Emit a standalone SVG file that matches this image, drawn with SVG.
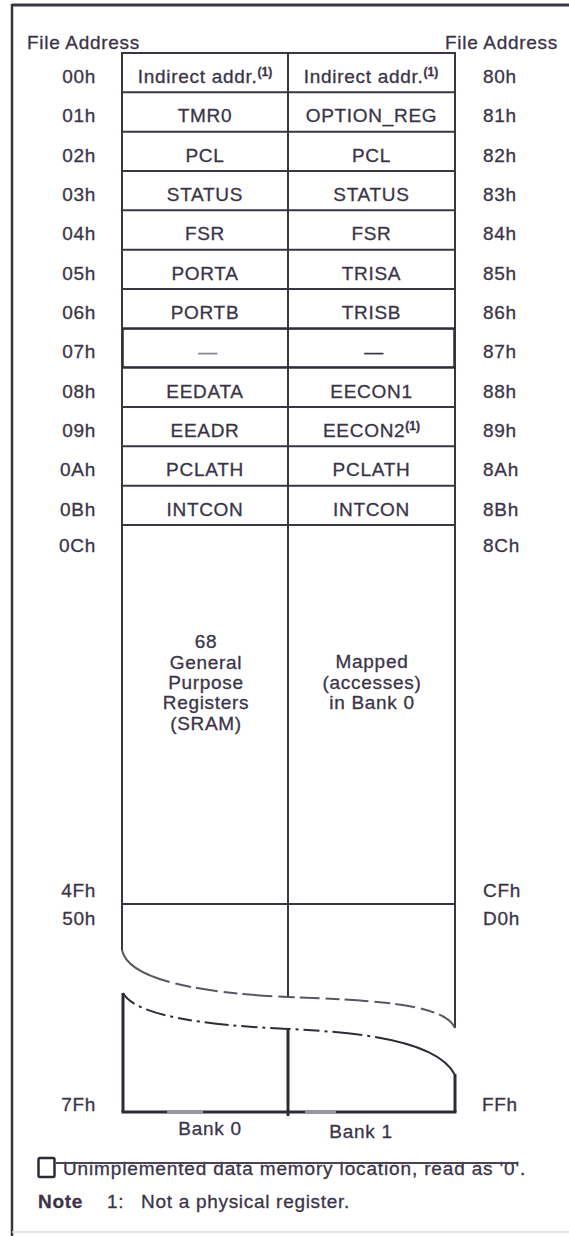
<svg xmlns="http://www.w3.org/2000/svg" width="569" height="1236" viewBox="0 0 569 1236">
<style>
.t{font-family:"Liberation Sans",Arial,sans-serif;font-size:19px;fill:#3b3448;stroke:#3b3448;stroke-width:0.3;letter-spacing:0.7px}
.c{text-anchor:middle}
.e{text-anchor:end}
.s{text-anchor:start}
.sup{font-size:12px;font-weight:bold;letter-spacing:0}
.b{font-weight:bold}
.ln{stroke:#3a3540;stroke-width:2;fill:none}
.thk{stroke:#2f2a35;stroke-width:3;fill:none}
.gr{stroke:#9a96a0;stroke-width:3;fill:none}
</style>
<rect x="0" y="0" width="569" height="1236" fill="#ffffff"/>
<g id="frame">
<line x1="12" y1="5" x2="569" y2="5" stroke="#3a3540" stroke-width="3"/>
<line x1="12" y1="4" x2="12" y2="1236" stroke="#3a3540" stroke-width="2.5"/>
<line x1="12" y1="1232" x2="569" y2="1232" stroke="#dddbe0" stroke-width="1.5"/>
</g>
<g id="headers">
<text class="t s" x="27" y="49">File Address</text>
<text class="t s" x="445" y="49">File Address</text>
</g>
<g id="connectors">
<line class="ln" x1="122" y1="52" x2="122" y2="950"/>
<line class="ln" x1="288" y1="52" x2="288" y2="997"/>
<line class="ln" x1="455" y1="52" x2="455" y2="1028"/>
<line class="ln" x1="121" y1="53" x2="456" y2="53"/>
<line class="ln" x1="121" y1="92.3" x2="456" y2="92.3"/>
<line class="ln" x1="121" y1="131.7" x2="456" y2="131.7"/>
<line class="ln" x1="121" y1="171" x2="456" y2="171"/>
<line class="ln" x1="121" y1="210.3" x2="456" y2="210.3"/>
<line class="ln" x1="121" y1="249.7" x2="456" y2="249.7"/>
<line class="ln" x1="121" y1="289" x2="456" y2="289"/>
<line class="ln" x1="121" y1="328.3" x2="456" y2="328.3"/>
<line class="ln" x1="121" y1="367.7" x2="456" y2="367.7"/>
<line class="ln" x1="121" y1="407" x2="456" y2="407"/>
<line class="ln" x1="121" y1="446.3" x2="456" y2="446.3"/>
<line class="ln" x1="121" y1="485.7" x2="456" y2="485.7"/>
<line class="ln" x1="121" y1="525" x2="456" y2="525"/>
<line class="ln" x1="121" y1="904" x2="456" y2="904"/>
<rect x="123" y="329" width="331" height="38" fill="none" stroke="#2f2a35" stroke-width="1.5"/>
<path d="M122 950 C128 980 200 993 288 997 C380 1000 445 1005 455 1028" fill="none" stroke="#5a5560" stroke-width="2" stroke-dasharray="60 6 16 5 22 6 14 5 30 6 16 5 20 6 14 5 24 6 16 5 20 6 14 5 26 6 16 5 20 6 60"/>
<path d="M123 993 C135 1015 200 1025 288 1029 C380 1033 440 1045 455 1075" fill="none" stroke="#2f2a35" stroke-width="2" stroke-dasharray="16 5 3 5 20 5 3 5 14 5 3 5 24 5 3 5 16 5 3 5 20 5 3 5 16 5 3 5 30 5 3 5 140"/>
<line class="thk" x1="123" y1="993" x2="123" y2="1112"/>
<line class="thk" x1="288" y1="1029" x2="288" y2="1116"/>
<line class="thk" x1="455" y1="1074" x2="455" y2="1112"/>
<line class="thk" x1="121.5" y1="1112" x2="456.5" y2="1112"/>
<line class="gr" x1="167" y1="1112" x2="203" y2="1112"/>
<line class="gr" x1="305" y1="1112" x2="336" y2="1112"/>
</g>
<g id="row-00">
<text class="t e" x="96" y="83">00h</text>
<text class="t c" x="205" y="83">Indirect addr.<tspan class="sup" dy="-7">(1)</tspan></text>
<text class="t c" x="371" y="83">Indirect addr.<tspan class="sup" dy="-7">(1)</tspan></text>
<text class="t s" x="483" y="83">80h</text>
</g>
<g id="row-01">
<text class="t e" x="96" y="122.3">01h</text>
<text class="t c" x="205" y="122.3">TMR0</text>
<text class="t c" x="371.5" y="122.3">OPTION_REG</text>
<text class="t s" x="483" y="122.3">81h</text>
</g>
<g id="row-02">
<text class="t e" x="96" y="161.7">02h</text>
<text class="t c" x="205" y="161.7">PCL</text>
<text class="t c" x="371.5" y="161.7">PCL</text>
<text class="t s" x="483" y="161.7">82h</text>
</g>
<g id="row-03">
<text class="t e" x="96" y="201">03h</text>
<text class="t c" x="205" y="201">STATUS</text>
<text class="t c" x="371.5" y="201">STATUS</text>
<text class="t s" x="483" y="201">83h</text>
</g>
<g id="row-04">
<text class="t e" x="96" y="240.3">04h</text>
<text class="t c" x="205" y="240.3">FSR</text>
<text class="t c" x="371.5" y="240.3">FSR</text>
<text class="t s" x="483" y="240.3">84h</text>
</g>
<g id="row-05">
<text class="t e" x="96" y="279.7">05h</text>
<text class="t c" x="205" y="279.7">PORTA</text>
<text class="t c" x="371.5" y="279.7">TRISA</text>
<text class="t s" x="483" y="279.7">85h</text>
</g>
<g id="row-06">
<text class="t e" x="96" y="319">06h</text>
<text class="t c" x="205" y="319">PORTB</text>
<text class="t c" x="371.5" y="319">TRISB</text>
<text class="t s" x="483" y="319">86h</text>
</g>
<g id="row-07">
<text class="t e" x="96" y="358.3">07h</text>
<text class="t c" x="208" y="358.3" style="fill:#8a8590;stroke:#8a8590">—</text>
<text class="t c" x="374" y="358.3">—</text>
<text class="t s" x="483" y="358.3">87h</text>
</g>
<g id="row-08">
<text class="t e" x="96" y="397.7">08h</text>
<text class="t c" x="205" y="397.7">EEDATA</text>
<text class="t c" x="371.5" y="397.7">EECON1</text>
<text class="t s" x="483" y="397.7">88h</text>
</g>
<g id="row-09">
<text class="t e" x="96" y="437">09h</text>
<text class="t c" x="205" y="437">EEADR</text>
<text class="t c" x="371.5" y="437">EECON2<tspan class="sup" dy="-7">(1)</tspan></text>
<text class="t s" x="483" y="437">89h</text>
</g>
<g id="row-0A">
<text class="t e" x="96" y="476.3">0Ah</text>
<text class="t c" x="205" y="476.3">PCLATH</text>
<text class="t c" x="371.5" y="476.3">PCLATH</text>
<text class="t s" x="483" y="476.3">8Ah</text>
</g>
<g id="row-0B">
<text class="t e" x="96" y="515.7">0Bh</text>
<text class="t c" x="205" y="515.7">INTCON</text>
<text class="t c" x="371.5" y="515.7">INTCON</text>
<text class="t s" x="483" y="515.7">8Bh</text>
</g>
<g id="gpr-block">
<text class="t e" x="96" y="552">0Ch</text>
<text class="t s" x="483" y="552">8Ch</text>
<text class="t c" x="206" y="648">68</text>
<text class="t c" x="206" y="669">General</text>
<text class="t c" x="206" y="689">Purpose</text>
<text class="t c" x="206" y="709">Registers</text>
<text class="t c" x="206" y="730">(SRAM)</text>
<text class="t c" x="372" y="668">Mapped</text>
<text class="t c" x="372" y="688.5">(accesses)</text>
<text class="t c" x="372" y="709">in Bank 0</text>
<text class="t e" x="96" y="897">4Fh</text>
<text class="t s" x="483" y="897">CFh</text>
<text class="t e" x="96" y="925">50h</text>
<text class="t s" x="483" y="925">D0h</text>
</g>
<g id="bank-bottom">
<text class="t e" x="96" y="1111">7Fh</text>
<text class="t s" x="482" y="1111">FFh</text>
<text class="t c" x="210" y="1135">Bank 0</text>
<text class="t c" x="361" y="1138">Bank 1</text>
</g>
<g id="legend">
<rect x="38.5" y="1158" width="16" height="19" rx="1.5" fill="none" stroke="#2f2a35" stroke-width="2.5"/>
<text class="t s" x="63" y="1175" style="letter-spacing:0.85px">Unimplemented data memory location, read as '0'.</text>
<line x1="56" y1="1163" x2="517" y2="1163" stroke="#4a4455" stroke-width="1.8"/>
</g>
<g id="note">
<text class="t s b" x="38" y="1208">Note</text>
<text class="t s" x="107" y="1208">1:</text>
<text class="t s" x="141" y="1208">Not a physical register.</text>
</g>
</svg>
